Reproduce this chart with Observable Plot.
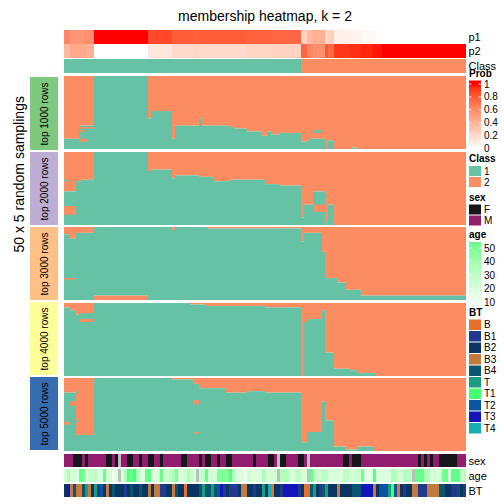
<!DOCTYPE html>
<html>
<head>
<meta charset="utf-8">
<script src="https://cdn.jsdelivr.net/npm/d3@7"></script>
<script src="https://cdn.jsdelivr.net/npm/@observablehq/plot@0.6"></script>
<style>
html,body{margin:0;padding:0;background:#fff;}
#chart{position:relative;width:504px;height:504px;overflow:hidden;background:#fff;}
</style>
</head>
<body>
<div id="chart"></div>
<script>
// ---------------- data ----------------
const chartTitle = "membership heatmap, k = 2";
const sideTitle = "50 x 5 random samplings";
const blockNames = ["top 1000 rows", "top 2000 rows", "top 3000 rows", "top 4000 rows", "top 5000 rows"];
const blockColors = ["#7FC97F", "#BEAED4", "#FDC086", "#FFFF99", "#386CB0"];
const classKeys = [1, 2];
const classColors = ["#66C2A5", "#FC8D62"];
const sexKeys = ["F", "M"];
const sexColors = ["#16171B", "#921D6F"];
const btKeys = ["B", "B1", "B2", "B3", "B4", "T", "T1", "T2", "T3", "T4"];
const btColors = ["#E8702A", "#1F3A8F", "#0A3563", "#C27A3E", "#0B5570", "#1A9C82", "#44FF6E", "#0855A0", "#1216B8", "#18AEB0"];
const probTicks = [1, 0.8, 0.6, 0.4, 0.2, 0];
const ageTicks = [50, 40, 30, 20, 10];
const naColor = "#BEBEBE";

// membership probability of each sample (columns)
const p1 = [
0.62,0.62,0.55,0.55,0.55,0.55,0.55,0.58,0.58,0.58,
1,1,1,1,1,1,1,1,1,1,
1,1,1,1,1,1,1,1,0.87,0.87,
0.87,0.87,0.87,0.87,0.87,0.87,0.8,0.8,0.8,0.8,
0.8,0.8,0.8,0.78,0.78,0.8,0.8,0.8,0.8,0.8,
0.8,0.8,0.8,0.8,0.8,0.8,0.8,0.8,0.8,0.8,
0.8,0.78,0.78,0.78,0.78,0.78,0.78,0.78,0.78,0.76,
0.76,0.76,0.76,0.76,0.76,0.76,0.76,0.76,0.76,0.24,
0.24,0.38,0.38,0.42,0.42,0.42,0.42,0.18,0.25,0.25,
0.08,0.08,0.08,0.08,0.08,0.06,0.06,0.06,0.06,0.04,
0.04,0.04,0.04,0.02,0.02,0.02,0,0,0,0,
0,0,0,0,0,0,0,0,0,0,
0,0,0,0,0,0,0,0,0,0,
0,0,0,0];
const p2 = [
0.38,0.38,0.45,0.45,0.45,0.45,0.45,0.42,0.42,0.42,
0,0,0,0,0,0,0,0,0,0,
0,0,0,0,0,0,0,0,0.13,0.13,
0.13,0.13,0.13,0.13,0.13,0.13,0.2,0.2,0.2,0.2,
0.2,0.2,0.2,0.22,0.22,0.2,0.2,0.2,0.2,0.2,
0.2,0.2,0.2,0.2,0.2,0.2,0.2,0.2,0.2,0.2,
0.2,0.22,0.22,0.22,0.22,0.22,0.22,0.22,0.22,0.24,
0.24,0.24,0.24,0.24,0.24,0.24,0.24,0.24,0.24,0.76,
0.76,0.62,0.62,0.58,0.58,0.58,0.58,0.82,0.75,0.75,
0.92,0.92,0.92,0.92,0.92,0.94,0.94,0.94,0.94,0.96,
0.96,0.96,0.96,0.98,0.98,0.98,1,1,1,1,
1,1,1,1,1,1,1,1,1,1,
1,1,1,1,1,1,1,1,1,1,
1,1,1,1];
const sampleClass = [
1,1,1,1,1,1,1,1,1,1,
1,1,1,1,1,1,1,1,1,1,
1,1,1,1,1,1,1,1,1,1,
1,1,1,1,1,1,1,1,1,1,
1,1,1,1,1,1,1,1,1,1,
1,1,1,1,1,1,1,1,1,1,
1,1,1,1,1,1,1,1,1,1,
1,1,1,1,1,1,1,1,1,2,
2,2,2,2,2,2,2,2,2,2,
2,2,2,2,2,2,2,2,2,2,
2,2,2,2,2,2,2,2,2,2,
2,2,2,2,2,2,2,2,2,2,
2,2,2,2,2,2,2,2,2,2,
2,2,2,2];
const sex = [
"M","M","M","F","F","F","M","F","M","M",
"M","M","M","M","F","F","M","F",null,"M",
"M","F","F","M","M","F","M","M","F","F",
"M","M","F","M","M","M","M","M","M","F",
"F","M","M","M","M","F","M","F","F","M",
"M","F","M","M","F","F","M","M","M","M",
"M","M","M","F","M","M","M","M","F","F",
"M",null,"F","F","M","M","M","M","F","F",
"M",null,"M","M","M","M","M","M","M","M",
"M","M","M","F","F","M","F","F","F","M",
"M","M","M","M","M","M","M","M","M","M",
"M","M","M","M","M","M","M","M","F","M",
"F","M","F","M","M","F","F","F","F","F",
"F","M","M","M"];
const age = [
22,34,20,25,18,55,52,20,28,22,
32,18,20,55,20,22,12,20,null,22,
36,58,55,60,36,22,18,54,56,20,
18,22,55,20,25,30,36,48,20,22,
24,36,30,20,null,28,28,55,22,22,
22,48,48,48,48,58,32,20,20,20,
10,25,20,20,20,20,36,22,22,22,
22,null,34,34,34,20,20,30,30,20,
20,null,55,25,25,25,30,30,20,20,
20,20,20,30,30,22,22,25,25,52,
18,18,18,58,20,20,20,20,20,34,
34,22,22,32,32,32,null,55,55,55,
34,34,22,22,22,22,52,52,20,56,
56,56,30,30];
const bt = [
"B2","T3","B3","B4","B3","B","B4","T","B3","B2",
"T","B1","T2","B2","B3","B2","B4","B2","B2","B2",
"B1","B2","B4","B2","B2","B4","B2","B2","B3","B2",
"B3","B3","B1","B1","B2","B2","B3","B4","B2","B2",
"B","B2","B2","B2","B2","B4","T","B4","B4","T",
"B4","T2","T3","B1","B2","B1","B1","B1","B2","B3",
"B3","B2","B2","B1","B2","B2","T","B2","T4","B",
"B2","B2","B1","T3","T3","T3","T3","T3","B1","B2",
"B","B3","B4","T","B2","B1","B4","T","B2","B2",
"B2","B3","B2","B2","B2","B2","B4","B4","B4","T3",
"T3","T3","T3","B3","B2","T2","T2","T2","T","T1",
"T2","B","B2","B1","B2","B2","B3","B3","B1","B1",
"B1","B3","B3","B3","B3","B4","B4","B2","B2","B1",
"B1","B4","B2","B1"];

// per block and sample: number of samplings (of 50, from the top) assigned to class 2
const block1Top = [
43,43,43,43,43,34,34,34,34,34,
0,0,0,0,0,0,0,0,0,0,
0,0,0,0,0,0,0,0,29,24,
24,24,24,24,24,24,43,34,34,34,
34,34,34,34,34,29,34,34,34,34,
34,34,34,34,34,35,35,36,36,36,
36,38,38,38,38,38,41,41,38,40,
40,40,39,39,39,39,39,39,39,45,
45,44,43,43,43,43,43,50,44,44,
50,50,50,50,50,50,49,49,50,50,
50,50,50,50,50,50,50,50,50,50,
50,50,50,50,50,50,50,50,50,50,
50,50,50,50,50,50,50,50,50,50,
50,50,50,50];
const block2Top = [
27,27,27,27,20,20,19,19,19,19,
0,0,0,0,0,0,0,0,0,0,
0,0,0,0,0,0,0,0,13,12,
12,12,12,12,12,12,18,16,16,16,
16,16,16,16,16,17,17,17,17,17,
20,20,20,20,20,19,19,19,19,19,
19,19,19,19,19,19,19,22,22,22,
22,22,23,23,23,23,23,23,23,45,
36,36,36,27,27,27,27,48,36,36,
50,50,50,50,50,50,50,50,50,50,
50,50,50,50,50,50,50,50,50,50,
50,50,50,50,50,50,50,50,50,50,
50,50,50,50,50,50,50,50,50,50,
50,50,50,50];
const block3Top = [
5,5,8,8,4,4,4,4,4,4,
0,0,0,0,0,0,0,0,0,0,
0,0,0,0,0,0,0,0,0,0,
0,0,0,0,0,0,2,0,0,0,
0,0,0,0,0,0,0,0,1,1,
1,1,1,1,1,1,1,1,1,1,
1,1,1,1,1,1,1,1,1,1,
1,1,1,1,1,1,1,1,1,10,
4,4,4,4,4,4,17,35,35,35,
35,38,38,38,43,43,43,43,43,47,
47,47,47,47,47,47,47,47,47,47,
47,47,47,47,47,47,47,47,47,47,
47,47,47,47,47,47,47,47,47,47,
47,47,47,47];
// samplings at the bottom of block 3 that are class 2
const block3Bottom = [
0,0,0,0,0,0,0,0,0,0,
3,3,3,3,3,3,3,3,3,3,
3,3,3,3,3,3,3,3,0,0,
0,0,0,0,0,0,0,0,0,0,
0,0,0,0,0,0,0,0,0,0,
0,0,0,0,0,0,0,0,0,0,
0,0,0,0,0,0,0,0,0,0,
0,0,0,0,0,0,0,0,0,0,
0,0,0,0,0,0,0,0,0,0,
0,0,0,0,0,0,0,0,0,0,
0,0,0,0,0,0,0,0,0,0,
0,0,0,0,0,0,0,0,0,0,
0,0,0,0,0,0,0,0,0,0,
0,0,0,0];
const block4Top = [
3,3,5,5,8,13,13,13,13,13,
0,0,0,0,0,0,0,0,0,0,
0,0,0,0,0,0,0,0,0,0,
0,0,0,0,0,0,0,0,0,0,
0,0,1,1,1,1,1,2,2,2,
2,2,2,2,2,2,2,2,2,2,
2,2,2,2,2,2,2,3,3,3,
3,3,3,3,3,3,3,3,3,50,
13,11,11,11,11,11,5,34,34,34,
45,45,45,45,45,46,46,46,48,48,
48,48,48,48,50,50,50,50,50,50,
50,50,50,50,50,50,50,50,50,50,
50,50,50,50,50,50,50,50,50,50,
50,50,50,50];
const block5Top = [
10,10,10,10,39,39,39,39,39,39,
0,0,0,0,0,0,0,0,0,0,
0,0,0,0,0,0,0,0,0,0,
0,0,0,0,0,0,1,1,1,1,
1,1,1,4,4,7,7,7,7,7,
7,7,7,7,10,10,10,10,10,10,
10,9,9,9,9,9,9,10,10,10,
10,10,10,10,10,10,10,10,10,44,
44,37,37,37,37,37,16,29,29,29,
47,47,47,47,49,49,49,49,47,47,
47,47,47,50,50,50,50,50,50,50,
50,50,50,50,50,50,50,50,50,50,
50,50,50,50,50,50,50,50,50,50,
50,50,50,50];
// scattered deviating samplings: [block, first sample, last sample, first sampling, end sampling, class]
const patches = [
[1,5,9,35,36,2],[1,5,6,37,38,2],[1,5,7,43,45,2],[1,83,85,37,39,1],
[2,0,1,19,20,1],[2,0,3,37,43,2],[2,83,86,36,41,2],[2,87,87,30,31,1],
[3,0,3,35,36,2],
[4,5,9,7,11,1],
[5,2,3,16,19,2],[5,0,1,30,32,2],[5,4,4,9,10,1],[5,4,4,29,30,1],[5,43,44,15,18,2],[5,43,44,37,38,2]
];

// ---------------- drawing ----------------
const FONT = "'Liberation Sans', Arial, Helvetica, sans-serif";
const W = 504, X0 = 64, X1 = 466;
const N = p1.length;
const samples = d3.range(N);
const chart = document.getElementById("chart");
const style = {fontFamily: FONT, background: "none", overflow: "visible", color: "black"};
const xScale = {type: "band", domain: samples, padding: 0, axis: null};
const classScale = {type: "ordinal", domain: classKeys, range: classColors};
const probScale = {type: "linear", domain: [0, 1], range: ["#ffffff", "#ff0000"], interpolate: d3.interpolateLab};
const ageDomain = [5, 65], ageRange = ["#ffffff", "#10ff70"];
const ageScale = {type: "linear", domain: ageDomain, range: ageRange, interpolate: d3.interpolateLab};

function place(el, top, left = 0) {
  el.style.position = "absolute";
  el.style.left = left + "px";
  el.style.top = top + "px";
  chart.appendChild(el);
}

function track(values, color, label, top, h) {
  const rows = samples.filter(i => values[i] != null).map(i => ({i, v: values[i]}));
  const na = samples.filter(i => values[i] == null).map(i => ({i}));
  const marks = [Plot.cell(rows, {x: "i", fill: "v", shapeRendering: "crispEdges"})];
  if (na.length) marks.push(Plot.cell(na, {x: "i", fill: naColor, shapeRendering: "crispEdges"}));
  marks.push(Plot.text([label], {text: d => d, frameAnchor: "right", dx: 2, textAnchor: "start", fontSize: 11, fill: "black"}));
  place(Plot.plot({width: W, height: h, marginLeft: X0, marginRight: W - X1, marginTop: 0, marginBottom: 0,
    x: xScale, color, style, marks}), top);
}

function block(k, topArr, bottomArr, top) {
  const segs = [];
  samples.forEach(i => {
    const t = topArr[i], b = bottomArr ? bottomArr[i] : 0;
    if (t > 0) segs.push({i, y1: 0, y2: t, cls: 2});
    if (50 - b > t) segs.push({i, y1: t, y2: 50 - b, cls: 1});
    if (b > 0) segs.push({i, y1: 50 - b, y2: 50, cls: 2});
  });
  patches.filter(p => p[0] === k).forEach(([, c0, c1, r0, r1, cls]) => {
    for (let i = c0; i <= c1; i++) segs.push({i, y1: r0, y2: r1, cls});
  });
  place(Plot.plot({width: W, height: 73, marginLeft: X0, marginRight: W - X1, marginTop: 0, marginBottom: 0,
    x: xScale, y: {domain: [0, 50], range: [0, 73], axis: null}, color: classScale, style,
    marks: [Plot.barY(segs, {x: "i", y1: "y1", y2: "y2", fill: "cls"})]}), top);
}

// top annotations
track(p1, probScale, "p1", 30, 14);
track(p2, probScale, "p2", 44, 14);
track(sampleClass, classScale, "Class", 59, 14);

// membership blocks
block(1, block1Top, null, 76);
block(2, block2Top, null, 152);
block(3, block3Top, block3Bottom, 227);
block(4, block4Top, null, 303);
block(5, block5Top, null, 378);

// bottom annotations
track(sex, {type: "ordinal", domain: sexKeys, range: sexColors}, "sex", 454, 13);
track(age, ageScale, "age", 469, 13);
track(bt, {type: "ordinal", domain: btKeys, range: btColors}, "BT", 484, 13);

// left strips with block names and the row title
const strips = blockNames.map((name, j) => ({name, color: blockColors[j]}));
place(Plot.plot({width: 58, height: 376, marginLeft: 30, marginRight: 0, marginTop: 0, marginBottom: 0,
  y: {type: "band", domain: blockNames, range: [0, 375], paddingInner: 2.5 / 75.5, paddingOuter: 0, axis: null},
  color: {type: "identity"}, style,
  marks: [
    Plot.cell(strips, {y: "name", fill: "color"}),
    Plot.text(strips, {y: "name", text: "name", rotate: -90, fontSize: 10, fill: "black"}),
    Plot.text([sideTitle], {text: d => d, frameAnchor: "left", dx: -11, dy: -12, rotate: -90, fontSize: 14, fill: "black"})
  ]}), 76);

// title and legends
const svg = d3.create("svg").attr("width", W).attr("height", W).attr("font-family", FONT)
  .style("position", "absolute").style("left", "0px").style("top", "0px");
const defs = svg.append("defs");
svg.append("text").attr("x", 265).attr("y", 21).attr("text-anchor", "middle").attr("font-size", 14).attr("fill", "black").text(chartTitle);

const LX = 469, LW = 12, TX = 484;
function legTitle(t, y) {
  svg.append("text").attr("x", LX).attr("y", y).attr("font-size", 10).attr("font-weight", "bold").attr("fill", "black").text(t);
}
function legLabel(t, y) {
  svg.append("text").attr("x", TX).attr("y", y).attr("dy", "0.35em").attr("font-size", 10).attr("fill", "black").text(t);
}
function colorBar(id, title, titleY, colorFn, ticks, yOf, y0, y1, vOf) {
  legTitle(title, titleY);
  const g = defs.append("linearGradient").attr("id", id).attr("x1", 0).attr("y1", 0).attr("x2", 0).attr("y2", 1);
  d3.range(0, 1.0001, 0.05).forEach(f => g.append("stop").attr("offset", f).attr("stop-color", colorFn(vOf(y0 + (y1 - y0) * f))));
  svg.append("rect").attr("x", LX).attr("y", y0).attr("width", LW).attr("height", y1 - y0).attr("fill", `url(#${id})`);
  ticks.forEach(v => {
    const y = yOf(v);
    svg.append("line").attr("x1", LX).attr("x2", LX + 2.5).attr("y1", y).attr("y2", y).attr("stroke", "white").attr("stroke-width", 0.8);
    svg.append("line").attr("x1", LX + LW - 2.5).attr("x2", LX + LW).attr("y1", y).attr("y2", y).attr("stroke", "white").attr("stroke-width", 0.8);
    legLabel(String(v), y);
  });
}
function swatches(title, titleY, keys, colors, y0, step) {
  legTitle(title, titleY);
  keys.forEach((k, j) => {
    svg.append("rect").attr("x", LX).attr("y", y0 + j * step).attr("width", LW).attr("height", step - 1).attr("fill", colors[j]);
    legLabel(String(k), y0 + j * step + (step - 1) / 2);
  });
}
const probColor = d3.scaleLinear().domain([0, 1]).range(["#ffffff", "#ff0000"]).interpolate(d3.interpolateLab).clamp(true);
const ageColor = d3.scaleLinear().domain(ageDomain).range(ageRange).interpolate(d3.interpolateLab).clamp(true);
const probY = d3.scaleLinear().domain([0, 1]).range([148.5, 84]);
const ageY = d3.scaleLinear().domain([10, 50]).range([302.4, 248]);
colorBar("gProb", "Prob", 77, probColor, probTicks, probY, 80.5, 151, y => Math.max(0, Math.min(1, probY.invert(y))));
swatches("Class", 162, classKeys, classColors, 166, 11);
swatches("sex", 200.5, sexKeys, sexColors, 204.5, 11);
colorBar("gAge", "age", 237.5, ageColor, ageTicks, ageY, 242, 307, y => ageY.invert(y));
swatches("BT", 315.5, btKeys, btColors, 319.5, 11.5);

chart.appendChild(svg.node());
</script>
</body>
</html>
